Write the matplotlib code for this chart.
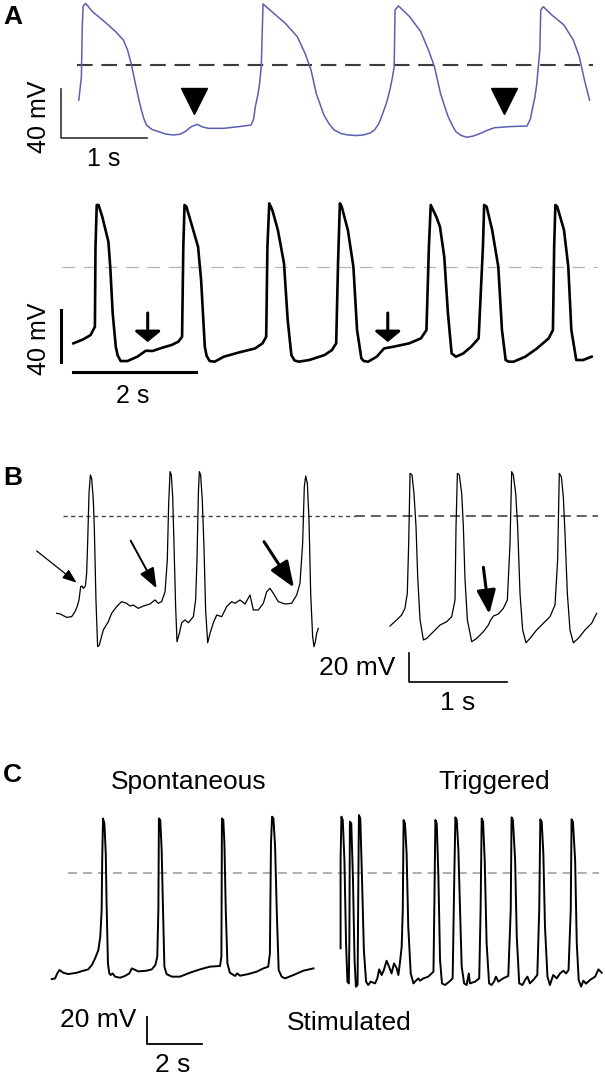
import numpy as np
import matplotlib
matplotlib.use("Agg")
import matplotlib.pyplot as plt

plt.rcParams['font.family'] = ['Liberation Sans', 'DejaVu Sans']

W, H = 605, 1077

# ---- panel A, top trace (blue), time in s, voltage in mV (0 = dashed line)
a1_t = [0.0, 0.03, 0.04, 0.05, 0.08, 0.16, 0.30, 0.43, 0.52, 0.57, 0.61, 0.66, 0.70, 0.73, 0.76,
        0.79, 0.85, 0.93, 1.02, 1.11, 1.18, 1.24, 1.31, 1.38, 1.44, 1.51, 1.69, 1.87, 2.01, 2.04,
        2.06, 2.09, 2.11, 2.13, 2.14, 2.15, 2.23, 2.41, 2.55, 2.64, 2.71, 2.77, 2.82, 2.86, 2.92,
        2.98, 3.06, 3.14, 3.24, 3.32, 3.40, 3.45, 3.50, 3.54, 3.59, 3.63, 3.66, 3.68, 3.69, 3.73,
        3.86, 3.99, 4.08, 4.15, 4.22, 4.27, 4.31, 4.36, 4.40, 4.46, 4.53, 4.60, 4.67, 4.76, 4.85,
        5.03, 5.23, 5.27, 5.29, 5.32, 5.34, 5.36, 5.38, 5.39, 5.42, 5.52, 5.66, 5.77, 5.84, 5.90,
        5.96]
a1_v = [-28.6, -10.0, 30.0, 48.0, 50.3, 43.5, 35.4, 27.2, 20.4, 12.0, 1.4, -15.0, -28.0, -36.7, -44.0,
        -49.0, -52.5, -54.4, -56.5, -57.1, -56.5, -54.4, -50.5, -48.4, -50.5, -51.7, -51.7, -50.3, -49.0, -44.0,
        -34.0, -24.0, -15.0, 0.0, 25.9, 49.8, 44.9, 34.0, 23.1, 9.5, -4.1, -23.1, -33.0, -40.8, -48.0,
        -53.1, -56.0, -57.1, -57.6, -57.1, -55.5, -53.1, -48.0, -40.8, -31.0, -20.4, -10.0, -1.4, 44.9, 48.2,
        39.5, 27.2, 12.2, -1.4, -23.1, -34.0, -42.2, -49.5, -54.4, -57.5, -59.0, -58.0, -56.3, -53.5, -51.2,
        -50.3, -49.8, -44.0, -36.7, -27.0, -17.7, -3.0, 12.2, 44.9, 47.6, 40.8, 32.7, 20.4, 6.8, -12.2,
        -28.6]
a1_marks = [1.34, 4.96]          # arrowheads (triangles)

# ---- panel A, bottom trace
a2_t = [0, 0.16, 0.28, 0.35, 0.36, 0.38, 0.41, 0.47, 0.57, 0.60, 0.64, 0.69, 0.72, 0.77, 0.88, 1.04,
        1.18, 1.29, 1.45, 1.60, 1.71, 1.77, 1.79, 1.81, 1.84, 1.92, 2.03, 2.08, 2.14, 2.17, 2.22, 2.30,
        2.45, 2.70, 2.96, 3.08, 3.14, 3.16, 3.19, 3.24, 3.33, 3.43, 3.49, 3.55, 3.60, 3.67, 3.84, 4.09,
        4.21, 4.28, 4.31, 4.34, 4.37, 4.47, 4.56, 4.62, 4.69, 4.73, 4.80, 4.94, 5.06, 5.22, 5.47, 5.66,
        5.75, 5.79, 5.82, 5.91, 5.97, 6.04, 6.10, 6.16, 6.23, 6.35, 6.48, 6.60, 6.67, 6.69, 6.73,
        6.82, 6.92, 6.98, 7.04, 7.09, 7.17, 7.36, 7.55, 7.74, 7.81, 7.83, 7.85, 7.88, 7.99, 8.06, 8.11,
        8.19, 8.30, 8.44]
a2_v = [-60.1, -57.0, -53.6, -47.1, 15.7, 48.4, 48.4, 39.2, 19.6, 0, -36.6, -62.7, -69.5, -74.0, -74.0, -70.6,
        -65.9, -66.1, -63.5, -61.4, -58.8, -54.9, 15.7, 48.4, 47.1, 34.0, 15.7, -10.5, -62.7, -70.0, -74.0, -74.5,
        -70.6, -67.2, -64.1, -60.1, -54.9, 15.7, 49.7, 44.4, 28.8, 2.6, -41.8, -69.3, -73.5, -74.5, -73.2, -69.3,
        -65.4, -60.1, 2.6, 49.7, 47.1, 28.8, 0, -49.7, -71.9, -74.0, -74.5, -70.6, -64.1, -62.7, -60.1, -56.2,
        -49.7, 15.7, 48.4, 39.2, 31.4, 7.8, -36.6, -68.0, -70.6, -68.0, -62.7, -56.2, 15.7, 48.4, 47.1,
        28.8, 0, -49.7, -73.2, -74.5, -74.5, -70.6, -64.1, -56.2, -49.7, 15.7, 48.4, 47.1, 28.8, 0, -49.7,
        -73.2, -73.2, -70.6]
a2_arrows = [1.21, 5.12]

# ---- panel B, left and right traces
b1_t = [0.170, 0.204, 0.272, 0.323, 0.357, 0.381, 0.398, 0.415, 0.429, 0.442, 0.463, 0.476, 0.486,
        0.500, 0.514, 0.527, 0.544, 0.554, 0.571, 0.588, 0.605, 0.646, 0.697, 0.731, 0.782, 0.833,
        0.884, 0.918, 0.952, 1.003, 1.054, 1.122, 1.173, 1.207, 1.241, 1.276, 1.299, 1.313, 1.327,
        1.340, 1.354, 1.367, 1.384, 1.398, 1.422, 1.446, 1.480, 1.514, 1.565, 1.588, 1.602, 1.616,
        1.626, 1.639, 1.656, 1.673, 1.690, 1.711, 1.735, 1.769, 1.803, 1.854, 1.905, 1.956, 1.990,
        2.041, 2.092, 2.143, 2.177, 2.228, 2.279, 2.313, 2.347, 2.381, 2.432, 2.500, 2.568, 2.619,
        2.653, 2.680, 2.697, 2.711, 2.728, 2.745, 2.762, 2.782, 2.796, 2.810, 2.823, 2.840]
b1_v = [-67.1, -67.5, -69.9, -69.4, -66.0, -62.1, -57.9, -48.7, -48.3, -49.9, -48.3, -39.5, -18.9,
        15.6, 28.3, 26.0, 11.0, -7.4, -57.9, -90.1, -89.0, -78.6, -72.9, -67.1, -62.5, -59.1,
        -60.2, -62.1, -61.4, -63.7, -62.1, -60.7, -57.9, -60.2, -59.1, -52.2, -30.3, 8.7, 30.6,
        28.3, 13.3, -18.9, -62.5, -86.7, -80.9, -73.6, -71.7, -73.6, -69.4, -57.9, -30.3, 15.6,
        30.6, 28.3, 11.0, -21.1, -64.8, -87.4, -80.9, -73.6, -68.3, -69.4, -62.5, -59.1, -60.2,
        -57.9, -60.7, -54.5, -64.8, -64.8, -60.2, -52.2, -49.9, -53.3, -59.1, -60.7, -60.2, -54.5,
        -46.4, -18.9, 20.2, 27.6, 22.5, -2.8, -53.3, -83.2, -90.1, -86.7, -80.9, -77.5]
b2_t = [3.571, 3.639, 3.690, 3.724, 3.748, 3.762, 3.776, 3.796, 3.816, 3.837, 3.854, 3.878, 3.912,
        3.946, 4.014, 4.082, 4.150, 4.201, 4.235, 4.245, 4.259, 4.279, 4.303, 4.320, 4.337, 4.361,
        4.405, 4.456, 4.524, 4.575, 4.599, 4.626, 4.677, 4.728, 4.769, 4.796, 4.813, 4.830, 4.854,
        4.874, 4.898, 4.925, 4.959, 5.000, 5.068, 5.136, 5.204, 5.255, 5.282, 5.299, 5.320, 5.340,
        5.357, 5.381, 5.408, 5.442, 5.493, 5.561, 5.629, 5.680]
b2_v = [-75.9, -71.7, -68.3, -63.7, -53.3, -18.9, 29.4, 28.3, 15.6, -7.4, -41.8, -71.7, -85.5,
        -84.4, -79.8, -75.2, -72.9, -69.4, -57.9, -7.4, 29.4, 28.3, 15.6, -7.4, -44.1, -71.7,
        -86.7, -84.4, -79.8, -75.2, -71.7, -69.0, -67.6, -63.7, -57.9, -18.9, 30.6, 28.3, 15.6,
        -7.4, -53.3, -78.6, -87.4, -84.4, -78.6, -74.0, -69.4, -61.4, -30.3, 29.4, 27.1, 13.3,
        -12.0, -53.3, -78.6, -87.4, -84.4, -78.6, -74.0, -67.1]
# arrows: (tail t, tail v, tip t, tip v)
b_arrows = [(-0.034, -24.1, 0.374, -46.0), (0.925, -17.0, 1.19, -49.9),
            (2.286, -17.7, 2.592, -49.4), (4.524, -35.4, 4.585, -67.6)]

# ---- panel C, spontaneous and triggered traces
c1_t = [0.43, 0.55, 0.63, 0.71, 0.85, 1.03, 1.34, 1.58, 1.76, 1.89, 2.01, 2.13, 2.20, 2.25, 2.27,
        2.30, 2.35, 2.40, 2.43, 2.48, 2.53, 2.58, 2.65, 2.74, 2.92, 3.10, 3.26, 3.35, 3.43, 3.59,
        3.89, 4.08, 4.21, 4.28, 4.32, 4.34, 4.39, 4.44, 4.49, 4.54, 4.62, 4.81, 5.11, 5.47, 5.84,
        6.20, 6.57, 6.62, 6.64, 6.69, 6.73, 6.78, 6.84, 6.93, 7.12, 7.20, 7.30, 7.60, 7.91, 8.15,
        8.33, 8.39, 8.43, 8.47, 8.52, 8.58, 8.64, 8.71, 8.82, 8.94, 9.25, 9.61, 9.98]
c1_v = [-78.8, -78.3, -74.6, -72.1, -74.1, -75.1, -74.1, -72.6, -71.6, -68.4, -63.5, -57.3, -47.4,
        -27.7, 9.4, 40.2, 36.5, 14.3, -22.7, -67.2, -74.6, -75.8, -74.6, -77.0, -77.8, -76.5,
        -74.6, -70.9, -71.6, -73.1, -72.6, -71.6, -68.4, -62.2, -27.7, 40.2, 39.0, 16.8, -27.7,
        -69.6, -75.1, -77.0, -77.0, -74.1, -71.6, -69.6, -69.1, -62.2, 40.2, 39.0, 21.7, -27.7,
        -67.2, -74.1, -76.5, -74.6, -76.3, -75.1, -73.3, -70.9, -69.6, -59.8, 21.7, 41.5, 40.2,
        19.3, -27.7, -72.1, -77.0, -78.3, -75.8, -72.6, -70.9]
c2_t = [10.97, 10.97, 11.00, 11.05, 11.11, 11.17, 11.22, 11.27, 11.29, 11.31, 11.36, 11.42, 11.48,
        11.53, 11.59, 11.62, 11.64, 11.69, 11.75, 11.82, 11.90, 11.98, 12.07, 12.23, 12.31, 12.38,
        12.47, 12.55, 12.65, 12.74, 12.83, 12.92, 13.02, 13.08, 13.14, 13.20, 13.24, 13.27, 13.32,
        13.38, 13.44, 13.53, 13.63, 13.72, 13.81, 13.87, 13.99, 14.17, 14.36, 14.39, 14.43, 14.48,
        14.54, 14.60, 14.67, 14.78, 14.94, 15.06, 15.12, 15.16, 15.21, 15.27, 15.33, 15.39, 15.48,
        15.57, 15.65, 15.69, 15.88, 16.03, 16.08, 16.12, 16.17, 16.23, 16.30, 16.39, 16.48, 16.57,
        16.64, 16.73, 16.90, 17.09, 17.18, 17.21, 17.26, 17.34, 17.40, 17.49, 17.61, 17.70, 17.79,
        17.88, 18.00, 18.15, 18.22, 18.26, 18.31, 18.37, 18.43, 18.52, 18.61, 18.73, 18.86, 18.98,
        19.10, 19.20, 19.29, 19.37, 19.40, 19.45, 19.53, 19.59, 19.66, 19.75, 19.83, 19.93, 20.07,
        20.26, 20.38, 20.50]
c2_v = [-56.0, 9.4, 41.5, 39.0, 9.4, -52.3, -80.7, -82.0, -52.3, 37.8, 36.5, -3.0, -64.7,
        -84.4, -83.2, -3.0, 42.7, 40.2, -3.0, -57.3, -80.7, -83.2, -80.7, -82.0, -78.3, -71.6,
        -75.8, -72.1, -65.2, -69.6, -74.6, -67.2, -70.9, -75.8, -65.9, -54.8, -27.7, 39.0, 36.5,
        14.3, -40.0, -74.6, -82.0, -80.0, -78.3, -80.0, -78.3, -77.0, -73.3, -27.7, 39.0, 36.5,
        -3.0, -64.7, -82.0, -83.2, -80.7, -78.3, -3.0, 41.0, 39.0, 16.8, -27.7, -69.6, -82.0,
        -83.2, -74.6, -82.0, -80.7, -78.3, -27.7, 40.2, 37.8, 9.4, -52.3, -82.0, -83.2, -80.7,
        -77.0, -80.7, -78.3, -76.5, -27.7, 41.0, 39.0, 9.4, -47.4, -82.0, -83.2, -79.5, -77.0,
        -82.0, -79.5, -75.8, -27.7, 39.5, 37.8, 14.3, -40.0, -77.0, -83.2, -75.8, -78.3, -74.6,
        -72.6, -74.6, -72.1, -27.7, 39.5, 37.8, 9.4, -52.3, -79.5, -84.4, -80.0, -82.2, -79.5,
        -77.0, -71.6, -74.1]


fig = plt.figure(figsize=(W / 100, H / 100), dpi=100)


def panel(x0, y0, pps, ppmv, top, bottom):
    # axes spanning the full width; (t=0, v=0) sits at pixel (x0, y0)
    ax = fig.add_axes([0, 1 - bottom / H, 1, (bottom - top) / H])
    ax.set_xlim(-x0 / pps, (W - x0) / pps)
    ax.set_ylim((y0 - bottom) / ppmv, (y0 - top) / ppmv)
    ax.axis('off')
    return ax


def arrow(ax, tail, tip, lw, hl, hw):
    # hl, hw: head length / full width in px
    style = '-|>,head_length=%.3f,head_width=%.3f' % (hl * 0.72 / 10, hw * 0.72 / 20)
    ax.annotate('', xy=tip, xytext=tail, annotation_clip=False,
                arrowprops=dict(arrowstyle=style, mutation_scale=10, lw=lw, color='k',
                                shrinkA=0, shrinkB=0))


fs = 19

# ---------------- A top
ax = panel(78.8, 65, 85.7, 1.225, 0, 175)
ax.plot([-0.02, 6.0], [0, 0], color='#3c3c3c', lw=1.5, dashes=(7.5, 4.2))
ax.plot(a1_t, a1_v, color='#5b5fae', lw=1.1)
ax.plot(a1_marks, [-29.4] * len(a1_marks), 'v', color='k', ms=19)
ax.plot([-0.21, -0.21, 0.79], [-19.6, -59.6, -59.6], color='#333333', lw=1.2)
ax.text(-0.46, -42, '40 mV', rotation=90, ha='center', va='center', fontsize=18)
ax.text(0.29, -77, '1 s', ha='center', va='center', fontsize=18)

# ---------------- A bottom
ax = panel(73.4, 266.7, 61.4, 1.275, 185, 410)
ax.plot([-0.19, 8.52], [0, 0], color='#b4b4b4', lw=0.9, dashes=(10, 7))
ax.plot(a2_t, a2_v, color='k', lw=1.9)
for t in a2_arrows:
    arrow(ax, (t, -36.3), (t, -59.1), 2.2, 9, 22)
ax.plot([-0.2, -0.2], [-34.0, -74.5], color='k', lw=2.2)
ax.plot([0, 2], [-82.6, -82.6], color='k', lw=2.2)
ax.text(-0.56, -56.7, '40 mV', rotation=90, ha='center', va='center', fontsize=18)
ax.text(0.97, -101.4, '2 s', ha='center', va='center', fontsize=18)

# ---------------- B
ax = panel(40, 516, 98, 1.45, 440, 720)
ax.plot([0.23, 3.21], [0, 0], color='#444444', lw=1.0, dashes=(3, 2.5))
ax.plot([3.21, 5.69], [0, 0], color='#444444', lw=1.2, dashes=(6, 3.5))
ax.plot(b1_t, b1_v, color='k', lw=0.9)
ax.plot(b2_t, b2_v, color='k', lw=0.9)
sizes = [(0.9, 12, 9), (1.4, 17, 13), (2.2, 22, 17), (2.2, 20, 16)]
for (t0, v0, t1, v1), (lw, hl, hw) in zip(b_arrows, sizes):
    arrow(ax, (t0, v0), (t1, v1), lw, hl, hw)
ax.plot([3.765, 3.765, 4.765], [-94.5, -114.5, -114.5], color='k', lw=1.2)
ax.text(3.63, -104.8, '20 mV', ha='right', va='center', fontsize=fs)
ax.text(4.26, -129, '1 s', ha='center', va='center', fontsize=fs)

# ---------------- C
ax = panel(40, 872.7, 27.4, 1.35, 760, 1077)
ax.plot([1.03, 20.4], [0, 0], color='#a8a8a8', lw=1.3, dashes=(5, 3.3))
ax.plot(c1_t, c1_v, color='k', lw=1.4)
ax.plot(c2_t, c2_v, color='k', lw=1.4)
ax.plot([3.9, 3.9, 5.9], [-106.9, -126.9, -126.9], color='k', lw=1.3)
ax.text(3.5, -109, '20 mV', ha='right', va='center', fontsize=fs)
ax.text(4.85, -142.5, '2 s', ha='center', va='center', fontsize=fs)
ax.text(5.44, 67.2, 'Spontaneous', ha='center', va='center', fontsize=fs)
ax.text(16.57, 67.2, 'Triggered', ha='center', va='center', fontsize=fs)
ax.text(11.28, -111.3, 'Stimulated', ha='center', va='center', fontsize=fs)

# panel letters
for lab, y in [('A', 17), ('B', 478), ('C', 775)]:
    fig.text(3 / W, 1 - y / H, lab, fontsize=19, fontweight='bold', ha='left', va='center')

fig.savefig('out.png', dpi=100)
